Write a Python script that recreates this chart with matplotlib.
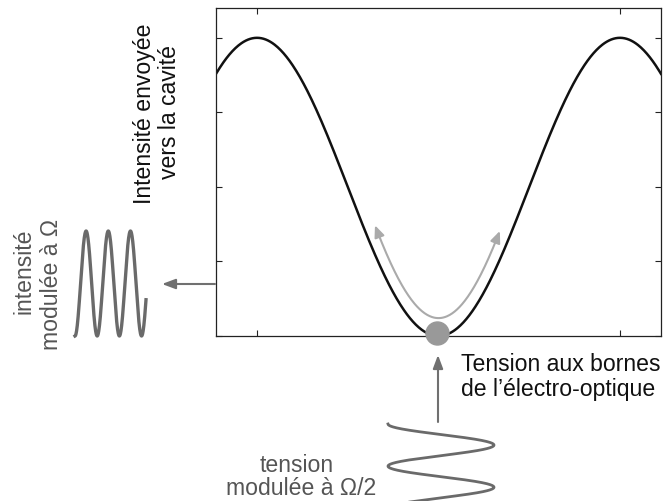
import numpy as np
import matplotlib
matplotlib.use("Agg")
import matplotlib.pyplot as plt
from matplotlib.patches import Circle

plt.rcParams['font.family'] = ['Liberation Sans', 'DejaVu Sans']

# transfer curve of the electro-optic: peaks at the two x ticks
x_ticks = [0.0, 1.0]
y_ticks = [0.0, 0.25, 0.5, 0.75, 1.0]
x_lims = [-0.113, 1.113]
y_lims = [0.0, 1.1]
n_periods = 1.0

# gray double arrow around the minimum
swing_x = [0.325, 0.669]
swing_offset = 0.06
swing_gain = 1.14

# modulated signals (figure pixel coords)
out_cycles = 3.2        # intensity at Omega, on the left
out_x = [75, 146]
out_y = [231, 336]
in_cycles = 1.85        # voltage at Omega/2, below
in_x = [388, 494]
in_y = [424, 502]

labels_main = ["Intensité envoyée", "vers la cavité"]
labels_volt = ["Tension aux bornes", "de l’électro-optique"]
labels_out = ["intensité", "modulée à Ω"]
labels_in = ["tension", "modulée à Ω/2"]

W, H = 665, 501
fig = plt.figure(figsize=(W / 100, H / 100), dpi=100)
ax = fig.add_axes([216 / W, 1 - 336 / H, (661 - 216) / W, (336 - 8) / H])

x = np.linspace(x_lims[0], x_lims[1], 600)
y = np.cos(np.pi * n_periods * x) ** 2
ax.plot(x, y, color='#111111', lw=1.8)

xs = np.linspace(swing_x[0], swing_x[1], 200)
ys = swing_offset + swing_gain * np.sin(np.pi * (xs - 0.5)) ** 2
ax.plot(xs[3:-3], ys[3:-3], color='#aaaaaa', lw=1.5)
for i0, i1 in [(5, 0), (-6, -1)]:
    ax.annotate('', xy=(xs[i1], ys[i1]), xytext=(xs[i0], ys[i0]),
                arrowprops=dict(arrowstyle='-|>,head_length=0.7,head_width=0.3',
                                color='#aaaaaa', lw=1.5, shrinkA=0, shrinkB=0))

ax.set_xlim(x_lims)
ax.set_ylim(y_lims)
ax.set_xticks(x_ticks)
ax.set_yticks(y_ticks)
ax.set_xticklabels([])
ax.set_yticklabels([])
ax.tick_params(direction='in', length=4, width=0.8, top=True, right=True, color='#222222')
for s in ax.spines.values():
    s.set_linewidth(0.9)
    s.set_color('#222222')

# overlay in pixel coordinates for the sketch around the plot
ov = fig.add_axes([0, 0, 1, 1], zorder=5)
ov.set_xlim(0, W)
ov.set_ylim(H, 0)
ov.axis('off')
ov.patch.set_alpha(0)

# intensity modulated at Omega
t = np.linspace(0, 1, 500)
ox = out_x[0] + t * (out_x[1] - out_x[0])
oy = out_y[1] - (out_y[1] - out_y[0]) * (1 - np.cos(2 * np.pi * out_cycles * t)) / 2
ov.plot(ox, oy, color='#6a6a6a', lw=2.4, clip_on=False)

# voltage modulated at Omega/2
iy = in_y[0] + t * (in_y[1] - in_y[0])
ix = in_x[0] + (in_x[1] - in_x[0]) * (1 - np.cos(2 * np.pi * in_cycles * t)) / 2
ov.plot(ix, iy, color='#6a6a6a', lw=2.0, clip_on=False)

arrow_kw = dict(arrowstyle='-|>,head_length=0.8,head_width=0.3',
                color='#707070', lw=1.5, shrinkA=0, shrinkB=0)
ov.annotate('', xy=(438, 355), xytext=(438, 422), arrowprops=arrow_kw)
ov.annotate('', xy=(162, 284), xytext=(215, 284), arrowprops=arrow_kw)

ov.add_patch(Circle((437.5, 333.5), 11.5, color='#999999', zorder=6, clip_on=False))

fs = 16.6
ov.text(144, 114, labels_main[0], rotation=90, ha='center', va='center', fontsize=fs, color='#111111')
ov.text(170, 112, labels_main[1], rotation=90, ha='center', va='center', fontsize=fs, color='#111111')
ov.text(461, 371, labels_volt[0], ha='left', va='baseline', fontsize=fs, color='#111111')
ov.text(461, 396, labels_volt[1], ha='left', va='baseline', fontsize=fs, color='#111111')
ov.text(24, 271, labels_out[0], rotation=90, ha='center', va='center', fontsize=fs, color='#555555')
ov.text(52, 284, labels_out[1], rotation=90, ha='center', va='center', fontsize=fs, color='#555555')
ov.text(297, 472, labels_in[0], ha='center', va='baseline', fontsize=fs, color='#555555')
ov.text(301, 495, labels_in[1], ha='center', va='baseline', fontsize=fs, color='#555555')

fig.savefig('out.png', dpi=100)
